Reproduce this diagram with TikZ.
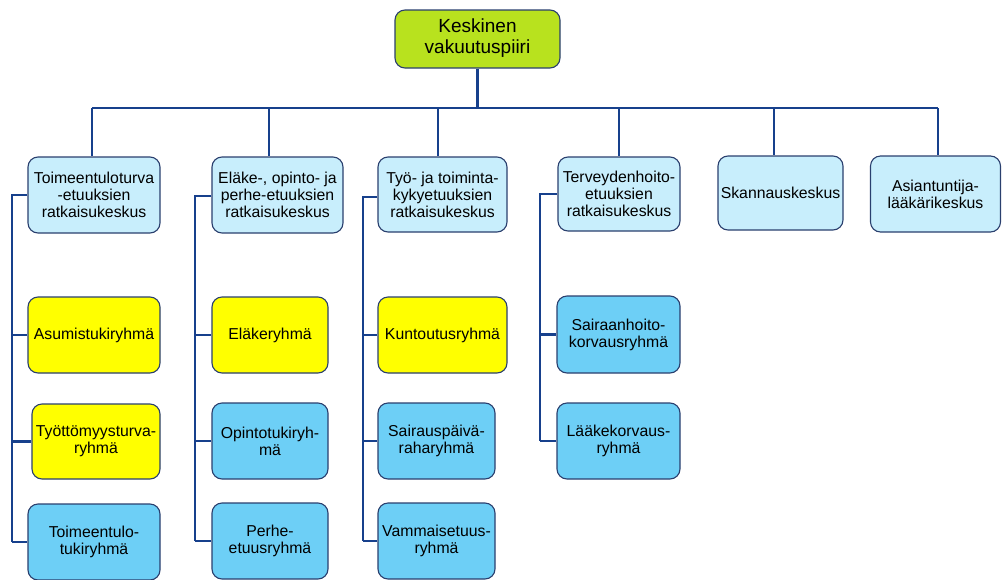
\documentclass[tikz,border=0pt]{standalone}
\usepackage{fontspec}
\setmainfont{Liberation Sans}
\begin{document}
\definecolor{lime}{HTML}{B8E21E}
\definecolor{paleblue}{HTML}{C8EEFC}
\definecolor{midblue}{HTML}{6DCFF6}
\definecolor{groupyellow}{HTML}{FFFF00}
\definecolor{edge}{HTML}{2A3F6E}
\definecolor{wire}{HTML}{17408C}
\begin{tikzpicture}[x=1pt,y=-1pt,
  box/.style={draw=edge, line width=1.1pt, rounded corners=10pt, inner sep=0pt,
    align=center, font=\fontsize{15.8}{17}\selectfont},
  root/.style={box, fill=lime, font=\fontsize{19}{21}\selectfont,
    minimum width=165pt, minimum height=58pt},
  centre/.style={box, fill=paleblue, minimum height=76pt},
  yellowgroup/.style={box, fill=groupyellow, minimum height=76pt},
  bluegroup/.style={box, fill=midblue, minimum height=76pt},
  conn/.style={draw=wire, line width=2.8pt}]
\useasboundingbox (0,0) rectangle (1002,579);

% top of the hierarchy
\node[root] (root) at (477.5,39) {\raisebox{-3pt}{\begin{tabular}{@{}c@{}}Keskinen\\vakuutuspiiri\end{tabular}}};

% service centres
\node[centre, minimum width=132pt] (c1) at (94,195) {Toimeentuloturva\\-etuuksien\\ratkaisukeskus};
\node[centre, minimum width=131pt] (c2) at (277.5,195) {Eläke-, opinto- ja\\perhe-etuuksien\\ratkaisukeskus};
\node[centre, minimum width=129pt, minimum height=75pt] (c3) at (442.5,194.5) {Työ- ja toiminta-\\kykyetuuksien\\ratkaisukeskus};
\node[centre, minimum width=122pt, minimum height=74pt] (c4) at (619,194) {Terveydenhoito-\\etuuksien\\ratkaisukeskus};
\node[centre, minimum width=125pt, minimum height=74pt] (c5) at (780.5,193) {Skannauskeskus};
\node[centre, minimum width=130pt] (c6) at (935.5,194) {Asiantuntija-\\lääkärikeskus};

% groups under the first centre
\node[yellowgroup, minimum width=132pt] (g11) at (94,335) {Asumistukiryhmä};
\node[yellowgroup, minimum width=128pt, minimum height=75pt] (g12) at (96,441.5) {Työttömyysturva-\\ryhmä};
\node[bluegroup, minimum width=132pt] (g13) at (94,542) {Toimeentulo-\\tukiryhmä};

% groups under the second centre
\node[yellowgroup, minimum width=116pt] (g21) at (270,335) {Eläkeryhmä};
\node[bluegroup, minimum width=116pt] (g22) at (270,441) {Opintotukiryh-\\mä};
\node[bluegroup, minimum width=116pt] (g23) at (270,541) {Perhe-\\etuusryhmä};

% groups under the third centre
\node[yellowgroup, minimum width=129pt] (g31) at (442.5,335) {Kuntoutusryhmä};
\node[bluegroup, minimum width=117pt] (g32) at (436.5,441) {Sairauspäivä-\\raharyhmä};
\node[bluegroup, minimum width=117pt] (g33) at (436.5,541) {Vammaisetuus-\\ryhmä};

% groups under the fourth centre
\node[bluegroup, minimum width=123pt, minimum height=77pt] (g41) at (618.5,334.5) {Sairaanhoito-\\korvausryhmä};
\node[bluegroup, minimum width=123pt] (g42) at (618.5,441) {Lääkekorvaus-\\ryhmä};

% main bus and drops
\coordinate (busL) at (92,108);
\coordinate (busR) at (938,108);
\coordinate (d1) at (92,108);
\coordinate (d2) at (269,108);
\coordinate (d3) at (438,108);
\coordinate (d4) at (619,108);
\coordinate (d5) at (774,108);
\coordinate (d6) at (938,108);
\draw[conn] (busL) -- (busR);
\draw[conn] (root.south) -- (root.south |- busL);
\foreach \i in {1,...,6} {\draw[conn] (d\i) -- (d\i |- c\i.north);}

% group spines
\coordinate (s1) at (12,195);
\coordinate (s2) at (195,196);
\coordinate (s3) at (363,197);
\coordinate (s4) at (540,194);
\draw[conn] (c1.west |- s1) -- (s1) -- (s1 |- g13.west);
\draw[conn] (c2.west |- s2) -- (s2) -- (s2 |- g23.west);
\draw[conn] (c3.west |- s3) -- (s3) -- (s3 |- g33.west);
\draw[conn] (c4.west |- s4) -- (s4) -- (s4 |- g42.west);
\foreach \g in {g11,g12,g13} {\draw[conn] (s1 |- \g.west) -- (\g.west);}
\foreach \g in {g21,g22,g23} {\draw[conn] (s2 |- \g.west) -- (\g.west);}
\foreach \g in {g31,g32,g33} {\draw[conn] (s3 |- \g.west) -- (\g.west);}
\foreach \g in {g41,g42} {\draw[conn] (s4 |- \g.west) -- (\g.west);}
\end{tikzpicture}
\end{document}
